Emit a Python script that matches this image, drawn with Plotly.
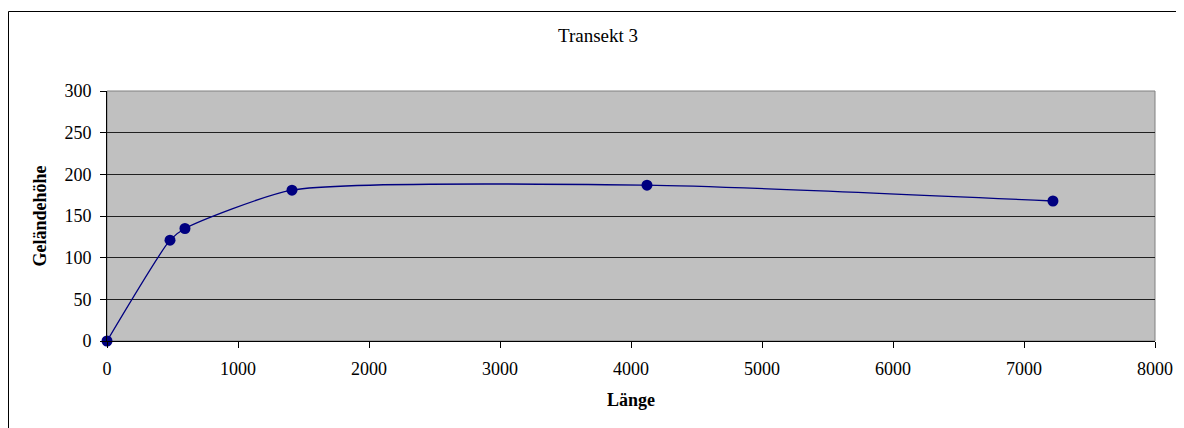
import plotly.graph_objects as go

laenge = [0, 481, 595, 1412, 4122, 7221]
hoehe = [0, 121, 135, 181, 187, 168]
x_ticks = [0, 1000, 2000, 3000, 4000, 5000, 6000, 7000, 8000]
y_ticks = [0, 50, 100, 150, 200, 250, 300]
title_text = "Transekt 3"
x_title = "Länge"
y_title = "Geländehöhe"

OFF = 8  # page body margin
W, H = 1184 - OFF, 428 - OFF
L, R, T, B = 107 - OFF, 1155 - OFF, 91 - OFF, 341 - OFF

fig = go.Figure()
fig.add_trace(go.Scatter(
    x=laenge, y=hoehe, mode="lines+markers",
    line=dict(color="#000080", width=1.3, shape="spline", smoothing=0.6),
    marker=dict(color="#000080", size=11),
    cliponaxis=False, showlegend=False,
))

font = "Liberation Serif, Times New Roman, serif"
fig.update_layout(
    width=W, height=H,
    margin=dict(l=L, r=W - R, t=T, b=H - B, pad=0),
    paper_bgcolor="white", plot_bgcolor="#C0C0C0",
    font=dict(family=font, size=18, color="black"),
    title=dict(text=title_text, x=(598 - OFF) / W, xanchor="center", y=1 - (35 - OFF) / H,
               yanchor="middle", font=dict(family=font, size=19)),
    xaxis=dict(range=[0, 8000], tickvals=x_ticks, ticks="outside", ticklen=6, tickcolor="black",
               showgrid=False, zeroline=False, showline=True, linecolor="black", linewidth=1,
               tickfont=dict(size=18), ticklabelstandoff=5,
               title=dict(text="<b>" + x_title + "</b>", font=dict(size=18), standoff=15)),
    yaxis=dict(range=[0, 300], tickvals=y_ticks, ticks="outside", ticklen=6, tickcolor="black",
               showgrid=True, gridcolor="#202020", gridwidth=1, zeroline=False,
               showline=True, linecolor="black", linewidth=1, tickfont=dict(size=18),
               ticklabelstandoff=5,
               title=dict(text="<b>" + y_title + "</b>", font=dict(size=18), standoff=13)),
)

# plot area border (top/right) in gray
fig.add_shape(type="rect", xref="paper", yref="paper", x0=0, x1=1, y0=0, y1=1,
              line=dict(color="#808080", width=1), layer="below")
# outer chart frame
pw, ph = R - L, B - T
fig.add_shape(type="rect", xref="paper", yref="paper",
              x0=(0.5 - L) / pw, x1=(1190 - OFF - L) / pw,
              y0=(B - (440 - OFF)) / ph, y1=(B - (11.5 - OFF)) / ph,
              line=dict(color="black", width=1))

fig.write_html("out.html")
